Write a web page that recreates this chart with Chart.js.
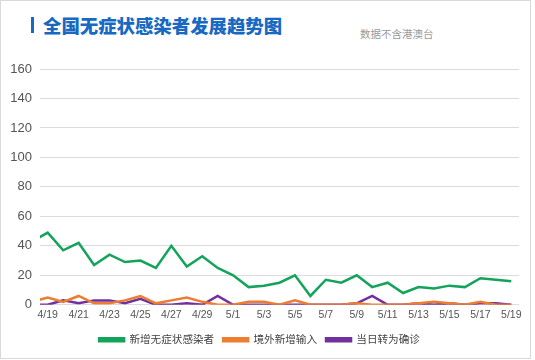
<!DOCTYPE html>
<html>
<head>
<meta charset="utf-8">
<script src="https://cdn.jsdelivr.net/npm/chart.js@4.4.1/dist/chart.umd.min.js"></script>
<style>
  html, body { margin: 0; padding: 0; background: #fff; }
  #frame { position: absolute; left: 0; top: 0; width: 529px; height: 357px; border: 1px solid #d9d9d9; }
  #bar { position: absolute; left: 31px; top: 17px; width: 3px; height: 16px; background: #1769c2; }
  #title { position: absolute; left: 43px; top: 12px; font: 900 18.4px "Noto Sans CJK SC", sans-serif; color: #1769c2; line-height: 26px; white-space: nowrap; }
  #note { position: absolute; left: 360px; top: 27px; font: 10.5px "Noto Sans CJK SC", sans-serif; color: #9a9a9a; line-height: 14px; }
  #wrap { position: absolute; left: 0; top: 0; width: 535px; height: 360px; }
</style>
</head>
<body>
<div id="frame"></div>
<div id="bar"></div>
<div id="title">全国无症状感染者发展趋势图</div>
<div id="note">数据不含港澳台</div>
<div id="wrap"><canvas id="chart"></canvas></div>
<script>
// dates 4/18 .. 5/19 (4/18 sits just outside the left edge)
const dates = ["4/18", "4/19", "4/20", "4/21", "4/22", "4/23", "4/24", "4/25", "4/26", "4/27", "4/28", "4/29", "4/30",
  "5/1", "5/2", "5/3", "5/4", "5/5", "5/6", "5/7", "5/8", "5/9", "5/10", "5/11", "5/12", "5/13", "5/14", "5/15",
  "5/16", "5/17", "5/18", "5/19"];
const newAsym = [43, 49, 37, 42, 27, 34, 29, 30, 25, 40, 26, 33, 25,
  20, 12, 13, 15, 20, 6, 17, 15, 20, 12, 15, 8, 12, 11, 13, 12, 18, 17, 16];
const imported = [2, 5, 2, 6, 1, 1, 3, 6, 1, 3, 5, 2, 0,
  0, 2, 2, 0, 3, 0, 0, 0, 1, 0, 0, 0, 1, 2, 1, 0, 2, 0, 0];
const toConfirmed = [0, 0, 3, 1, 3, 3, 1, 4, 0, 0, 1, 0, 6,
  0, 0, 0, 0, 0, 0, 0, 0, 1, 6, 0, 0, 1, 0, 1, 0, 1, 1, 0];
const yTicks = [0, 20, 40, 60, 80, 100, 120, 140, 160];

const toPoints = arr => arr.map((v, i) => ({ x: i, y: v }));
const font = "'Liberation Sans', 'Noto Sans CJK SC', sans-serif";

function series(label, data, color) {
  return {
    label: label,
    data: toPoints(data),
    borderColor: color,
    backgroundColor: color,
    borderWidth: 2.5,
    pointRadius: 0,
    tension: 0,
    fill: false
  };
}

new Chart(document.getElementById("chart"), {
  type: "line",
  data: {
    datasets: [
      series("新增无症状感染者", newAsym, "#14a35a"),
      series("境外新增输入", imported, "#ed7d31"),
      series("当日转为确诊", toConfirmed, "#7030a0")
    ]
  },
  options: {
    responsive: true,
    maintainAspectRatio: false,
    animation: false,
    layout: { padding: { top: 69, right: 16, left: 0, bottom: 5 } },
    scales: {
      x: {
        type: "linear",
        min: 0.5,
        max: 31.5,
        grid: { display: false, drawTicks: false },
        border: { display: false },
        afterBuildTicks: function (scale) {
          scale.ticks = dates.map((d, i) => i).filter(i => i % 2 === 1).map(i => ({ value: i }));
        },
        ticks: {
          autoSkip: false,
          maxRotation: 0,
          padding: 4,
          color: "#555",
          font: { family: font, size: 10.5 },
          callback: v => dates[v]
        }
      },
      y: {
        min: 0,
        max: 160,
        afterBuildTicks: function (scale) {
          scale.ticks = yTicks.map(v => ({ value: v }));
        },
        afterFit: function (scale) { scale.width = 40; },
        grid: { color: "#dcdcdc", drawTicks: false, lineWidth: 1 },
        border: { display: false },
        ticks: {
          padding: 8,
          color: "#555",
          font: { family: font, size: 13 }
        }
      }
    },
    plugins: {
      legend: {
        position: "bottom",
        labels: {
          boxWidth: 25,
          boxHeight: 3,
          padding: 9,
          color: "#444",
          font: { family: font, size: 10.6 }
        }
      },
      tooltip: { enabled: false }
    }
  }
});
</script>
</body>
</html>
